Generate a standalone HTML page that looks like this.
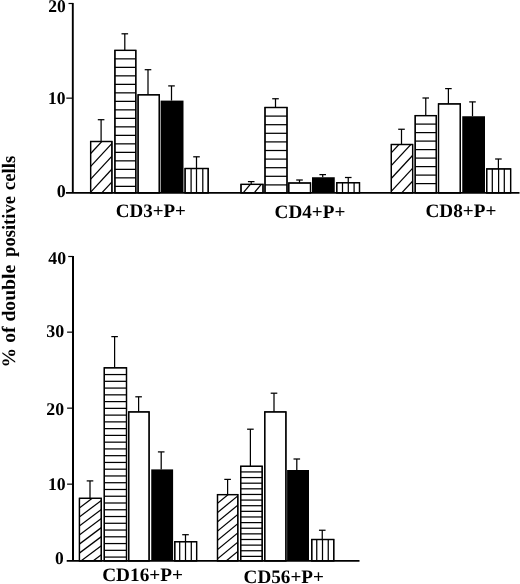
<!DOCTYPE html>
<html lang="en">
<head>
<meta charset="utf-8">
<title>% of double positive cells</title>
<style>
html,body{margin:0;padding:0;background:#fff;}
body{width:520px;height:584px;overflow:hidden;}
svg{display:block;will-change:transform;}
svg text{font-family:"Liberation Serif","DejaVu Serif",serif;font-weight:bold;font-size:17.9px;fill:#000;text-rendering:geometricPrecision;}
svg text.lab{font-size:19px;stroke:none;}
svg text.yl{font-size:19px;stroke:none;}
.bars line,.bars rect{stroke:#000;stroke-width:1.25;}
.axes line{stroke:#000;}
</style>
</head>
<body>
<svg width="520" height="584" viewBox="0 0 520 584">
<rect x="0" y="0" width="520" height="584" fill="#fff"/>
<g class="bars" stroke-linecap="butt">
<rect x="90.60" y="141.50" width="21.30" height="51.30" fill="#fff"/>
<clipPath id="c1"><rect x="90.60" y="141.50" width="21.30" height="51.30"/></clipPath>
<g clip-path="url(#c1)">
<line x1="88.60" y1="142.91" x2="113.90" y2="115.59"/>
<line x1="88.60" y1="155.76" x2="113.90" y2="128.44"/>
<line x1="88.60" y1="168.61" x2="113.90" y2="141.29"/>
<line x1="88.60" y1="181.46" x2="113.90" y2="154.14"/>
<line x1="88.60" y1="194.31" x2="113.90" y2="166.99"/>
<line x1="88.60" y1="207.16" x2="113.90" y2="179.84"/>
<line x1="88.60" y1="220.01" x2="113.90" y2="192.69"/>
</g>
<rect x="90.60" y="141.50" width="21.30" height="51.30" fill="none"/>
<line x1="101.10" y1="141.50" x2="101.10" y2="119.70"/>
<line x1="97.80" y1="119.70" x2="104.40" y2="119.70"/>
<rect x="114.90" y="50.40" width="20.90" height="142.40" fill="#fff"/>
<line x1="114.90" y1="58.85" x2="135.80" y2="58.85"/>
<line x1="114.90" y1="67.35" x2="135.80" y2="67.35"/>
<line x1="114.90" y1="75.85" x2="135.80" y2="75.85"/>
<line x1="114.90" y1="84.35" x2="135.80" y2="84.35"/>
<line x1="114.90" y1="92.85" x2="135.80" y2="92.85"/>
<line x1="114.90" y1="101.35" x2="135.80" y2="101.35"/>
<line x1="114.90" y1="109.85" x2="135.80" y2="109.85"/>
<line x1="114.90" y1="118.35" x2="135.80" y2="118.35"/>
<line x1="114.90" y1="126.85" x2="135.80" y2="126.85"/>
<line x1="114.90" y1="135.35" x2="135.80" y2="135.35"/>
<line x1="114.90" y1="143.85" x2="135.80" y2="143.85"/>
<line x1="114.90" y1="152.35" x2="135.80" y2="152.35"/>
<line x1="114.90" y1="160.85" x2="135.80" y2="160.85"/>
<line x1="114.90" y1="169.35" x2="135.80" y2="169.35"/>
<line x1="114.90" y1="177.85" x2="135.80" y2="177.85"/>
<line x1="114.90" y1="186.35" x2="135.80" y2="186.35"/>
<rect x="114.90" y="50.40" width="20.90" height="142.40" fill="none"/>
<line x1="124.80" y1="50.40" x2="124.80" y2="33.80"/>
<line x1="121.50" y1="33.80" x2="128.10" y2="33.80"/>
<rect x="138.10" y="94.80" width="21.20" height="98.00" fill="#fff"/>
<rect x="138.10" y="94.80" width="21.20" height="98.00" fill="none"/>
<line x1="148.00" y1="94.80" x2="148.00" y2="69.70"/>
<line x1="144.70" y1="69.70" x2="151.30" y2="69.70"/>
<rect x="160.60" y="100.60" width="22.90" height="92.20" fill="#000" stroke="none" style="stroke:none"/>
<line x1="171.50" y1="100.60" x2="171.50" y2="85.90"/>
<line x1="168.20" y1="85.90" x2="174.80" y2="85.90"/>
<rect x="185.10" y="168.50" width="23.10" height="24.30" fill="#fff"/>
<line x1="191.10" y1="168.50" x2="191.10" y2="192.80"/>
<line x1="196.50" y1="168.50" x2="196.50" y2="192.80"/>
<line x1="202.80" y1="168.50" x2="202.80" y2="192.80"/>
<rect x="185.10" y="168.50" width="23.10" height="24.30" fill="none"/>
<line x1="196.50" y1="168.50" x2="196.50" y2="156.80"/>
<line x1="193.20" y1="156.80" x2="199.80" y2="156.80"/>
<rect x="241.00" y="184.40" width="22.00" height="8.40" fill="#fff"/>
<clipPath id="c2"><rect x="241.00" y="184.40" width="22.00" height="8.40"/></clipPath>
<g clip-path="url(#c2)">
<line x1="239.00" y1="184.70" x2="265.00" y2="153.50"/>
<line x1="239.00" y1="197.90" x2="265.00" y2="166.70"/>
<line x1="239.00" y1="211.10" x2="265.00" y2="179.90"/>
<line x1="239.00" y1="224.30" x2="265.00" y2="193.10"/>
</g>
<rect x="241.00" y="184.40" width="22.00" height="8.40" fill="none"/>
<line x1="251.20" y1="184.40" x2="251.20" y2="181.60"/>
<line x1="247.90" y1="181.60" x2="254.50" y2="181.60"/>
<rect x="265.00" y="107.50" width="22.00" height="85.30" fill="#fff"/>
<line x1="265.00" y1="116.10" x2="287.00" y2="116.10"/>
<line x1="265.00" y1="124.70" x2="287.00" y2="124.70"/>
<line x1="265.00" y1="133.30" x2="287.00" y2="133.30"/>
<line x1="265.00" y1="141.90" x2="287.00" y2="141.90"/>
<line x1="265.00" y1="150.50" x2="287.00" y2="150.50"/>
<line x1="265.00" y1="159.10" x2="287.00" y2="159.10"/>
<line x1="265.00" y1="167.70" x2="287.00" y2="167.70"/>
<line x1="265.00" y1="176.30" x2="287.00" y2="176.30"/>
<line x1="265.00" y1="184.90" x2="287.00" y2="184.90"/>
<rect x="265.00" y="107.50" width="22.00" height="85.30" fill="none"/>
<line x1="275.50" y1="107.50" x2="275.50" y2="98.75"/>
<line x1="272.20" y1="98.75" x2="278.80" y2="98.75"/>
<rect x="288.75" y="183.00" width="21.75" height="9.80" fill="#fff"/>
<rect x="288.75" y="183.00" width="21.75" height="9.80" fill="none"/>
<line x1="299.50" y1="183.00" x2="299.50" y2="180.00"/>
<line x1="296.20" y1="180.00" x2="302.80" y2="180.00"/>
<rect x="312.00" y="177.25" width="22.75" height="15.55" fill="#000" stroke="none" style="stroke:none"/>
<line x1="322.70" y1="177.25" x2="322.70" y2="174.60"/>
<line x1="319.40" y1="174.60" x2="326.00" y2="174.60"/>
<rect x="336.75" y="182.70" width="22.75" height="10.10" fill="#fff"/>
<line x1="342.50" y1="182.70" x2="342.50" y2="192.80"/>
<line x1="348.30" y1="182.70" x2="348.30" y2="192.80"/>
<line x1="354.10" y1="182.70" x2="354.10" y2="192.80"/>
<rect x="336.75" y="182.70" width="22.75" height="10.10" fill="none"/>
<line x1="348.25" y1="182.70" x2="348.25" y2="177.50"/>
<line x1="344.95" y1="177.50" x2="351.55" y2="177.50"/>
<rect x="391.35" y="144.50" width="21.25" height="48.30" fill="#fff"/>
<clipPath id="c3"><rect x="391.35" y="144.50" width="21.25" height="48.30"/></clipPath>
<g clip-path="url(#c3)">
<line x1="389.35" y1="142.01" x2="414.60" y2="114.74"/>
<line x1="389.35" y1="154.86" x2="414.60" y2="127.59"/>
<line x1="389.35" y1="167.71" x2="414.60" y2="140.44"/>
<line x1="389.35" y1="180.56" x2="414.60" y2="153.29"/>
<line x1="389.35" y1="193.41" x2="414.60" y2="166.14"/>
<line x1="389.35" y1="206.26" x2="414.60" y2="178.99"/>
<line x1="389.35" y1="219.11" x2="414.60" y2="191.84"/>
</g>
<rect x="391.35" y="144.50" width="21.25" height="48.30" fill="none"/>
<line x1="401.50" y1="144.50" x2="401.50" y2="129.25"/>
<line x1="398.20" y1="129.25" x2="404.80" y2="129.25"/>
<rect x="415.20" y="115.60" width="21.10" height="77.20" fill="#fff"/>
<line x1="415.20" y1="124.10" x2="436.30" y2="124.10"/>
<line x1="415.20" y1="132.60" x2="436.30" y2="132.60"/>
<line x1="415.20" y1="141.10" x2="436.30" y2="141.10"/>
<line x1="415.20" y1="149.60" x2="436.30" y2="149.60"/>
<line x1="415.20" y1="158.10" x2="436.30" y2="158.10"/>
<line x1="415.20" y1="166.60" x2="436.30" y2="166.60"/>
<line x1="415.20" y1="175.10" x2="436.30" y2="175.10"/>
<line x1="415.20" y1="183.60" x2="436.30" y2="183.60"/>
<rect x="415.20" y="115.60" width="21.10" height="77.20" fill="none"/>
<line x1="425.75" y1="115.60" x2="425.75" y2="98.00"/>
<line x1="422.45" y1="98.00" x2="429.05" y2="98.00"/>
<rect x="438.50" y="103.90" width="21.80" height="88.90" fill="#fff"/>
<rect x="438.50" y="103.90" width="21.80" height="88.90" fill="none"/>
<line x1="448.40" y1="103.90" x2="448.40" y2="88.60"/>
<line x1="445.10" y1="88.60" x2="451.70" y2="88.60"/>
<rect x="462.25" y="116.25" width="22.75" height="76.55" fill="#000" stroke="none" style="stroke:none"/>
<line x1="472.50" y1="116.25" x2="472.50" y2="101.90"/>
<line x1="469.20" y1="101.90" x2="475.80" y2="101.90"/>
<rect x="486.70" y="168.90" width="23.90" height="23.90" fill="#fff"/>
<line x1="492.30" y1="168.90" x2="492.30" y2="192.80"/>
<line x1="498.60" y1="168.90" x2="498.60" y2="192.80"/>
<line x1="504.30" y1="168.90" x2="504.30" y2="192.80"/>
<rect x="486.70" y="168.90" width="23.90" height="23.90" fill="none"/>
<line x1="498.40" y1="168.90" x2="498.40" y2="159.00"/>
<line x1="495.10" y1="159.00" x2="501.70" y2="159.00"/>
<rect x="79.45" y="498.35" width="21.85" height="62.45" fill="#fff"/>
<clipPath id="c4"><rect x="79.45" y="498.35" width="21.85" height="62.45"/></clipPath>
<g clip-path="url(#c4)">
<line x1="77.45" y1="491.27" x2="103.30" y2="471.88"/>
<line x1="77.45" y1="500.31" x2="103.30" y2="480.92"/>
<line x1="77.45" y1="509.35" x2="103.30" y2="489.96"/>
<line x1="77.45" y1="518.39" x2="103.30" y2="499.00"/>
<line x1="77.45" y1="527.43" x2="103.30" y2="508.04"/>
<line x1="77.45" y1="536.47" x2="103.30" y2="517.08"/>
<line x1="77.45" y1="545.51" x2="103.30" y2="526.12"/>
<line x1="77.45" y1="554.55" x2="103.30" y2="535.16"/>
<line x1="77.45" y1="563.59" x2="103.30" y2="544.20"/>
<line x1="77.45" y1="572.63" x2="103.30" y2="553.24"/>
<line x1="77.45" y1="581.67" x2="103.30" y2="562.28"/>
</g>
<rect x="79.45" y="498.35" width="21.85" height="62.45" fill="none"/>
<line x1="90.00" y1="498.35" x2="90.00" y2="480.90"/>
<line x1="86.70" y1="480.90" x2="93.30" y2="480.90"/>
<rect x="104.30" y="367.80" width="22.20" height="193.00" fill="#fff"/>
<line x1="104.30" y1="374.56" x2="126.50" y2="374.56"/>
<line x1="104.30" y1="381.32" x2="126.50" y2="381.32"/>
<line x1="104.30" y1="388.08" x2="126.50" y2="388.08"/>
<line x1="104.30" y1="394.84" x2="126.50" y2="394.84"/>
<line x1="104.30" y1="401.60" x2="126.50" y2="401.60"/>
<line x1="104.30" y1="408.36" x2="126.50" y2="408.36"/>
<line x1="104.30" y1="415.12" x2="126.50" y2="415.12"/>
<line x1="104.30" y1="421.88" x2="126.50" y2="421.88"/>
<line x1="104.30" y1="428.64" x2="126.50" y2="428.64"/>
<line x1="104.30" y1="435.40" x2="126.50" y2="435.40"/>
<line x1="104.30" y1="442.16" x2="126.50" y2="442.16"/>
<line x1="104.30" y1="448.92" x2="126.50" y2="448.92"/>
<line x1="104.30" y1="455.68" x2="126.50" y2="455.68"/>
<line x1="104.30" y1="462.44" x2="126.50" y2="462.44"/>
<line x1="104.30" y1="469.20" x2="126.50" y2="469.20"/>
<line x1="104.30" y1="475.96" x2="126.50" y2="475.96"/>
<line x1="104.30" y1="482.72" x2="126.50" y2="482.72"/>
<line x1="104.30" y1="489.48" x2="126.50" y2="489.48"/>
<line x1="104.30" y1="496.24" x2="126.50" y2="496.24"/>
<line x1="104.30" y1="503.00" x2="126.50" y2="503.00"/>
<line x1="104.30" y1="509.76" x2="126.50" y2="509.76"/>
<line x1="104.30" y1="516.52" x2="126.50" y2="516.52"/>
<line x1="104.30" y1="523.28" x2="126.50" y2="523.28"/>
<line x1="104.30" y1="530.04" x2="126.50" y2="530.04"/>
<line x1="104.30" y1="536.80" x2="126.50" y2="536.80"/>
<line x1="104.30" y1="543.56" x2="126.50" y2="543.56"/>
<line x1="104.30" y1="550.32" x2="126.50" y2="550.32"/>
<line x1="104.30" y1="557.08" x2="126.50" y2="557.08"/>
<rect x="104.30" y="367.80" width="22.20" height="193.00" fill="none"/>
<line x1="114.60" y1="367.80" x2="114.60" y2="336.60"/>
<line x1="111.30" y1="336.60" x2="117.90" y2="336.60"/>
<rect x="128.70" y="411.90" width="20.40" height="148.90" fill="#fff"/>
<rect x="128.70" y="411.90" width="20.40" height="148.90" fill="none"/>
<line x1="138.60" y1="411.90" x2="138.60" y2="396.80"/>
<line x1="135.30" y1="396.80" x2="141.90" y2="396.80"/>
<rect x="151.25" y="469.40" width="21.85" height="91.40" fill="#000" stroke="none" style="stroke:none"/>
<line x1="161.20" y1="469.40" x2="161.20" y2="451.90"/>
<line x1="157.90" y1="451.90" x2="164.50" y2="451.90"/>
<rect x="174.75" y="541.70" width="21.85" height="19.10" fill="#fff"/>
<line x1="179.70" y1="541.70" x2="179.70" y2="560.80"/>
<line x1="185.50" y1="541.70" x2="185.50" y2="560.80"/>
<line x1="191.30" y1="541.70" x2="191.30" y2="560.80"/>
<rect x="174.75" y="541.70" width="21.85" height="19.10" fill="none"/>
<line x1="185.50" y1="541.70" x2="185.50" y2="534.70"/>
<line x1="182.20" y1="534.70" x2="188.80" y2="534.70"/>
<rect x="217.50" y="494.60" width="20.30" height="66.20" fill="#fff"/>
<clipPath id="c5"><rect x="217.50" y="494.60" width="20.30" height="66.20"/></clipPath>
<g clip-path="url(#c5)">
<line x1="215.50" y1="495.69" x2="239.80" y2="475.76"/>
<line x1="215.50" y1="504.94" x2="239.80" y2="485.01"/>
<line x1="215.50" y1="514.19" x2="239.80" y2="494.26"/>
<line x1="215.50" y1="523.44" x2="239.80" y2="503.51"/>
<line x1="215.50" y1="532.69" x2="239.80" y2="512.76"/>
<line x1="215.50" y1="541.94" x2="239.80" y2="522.01"/>
<line x1="215.50" y1="551.19" x2="239.80" y2="531.26"/>
<line x1="215.50" y1="560.44" x2="239.80" y2="540.51"/>
<line x1="215.50" y1="569.69" x2="239.80" y2="549.76"/>
<line x1="215.50" y1="578.94" x2="239.80" y2="559.01"/>
<line x1="215.50" y1="588.19" x2="239.80" y2="568.26"/>
</g>
<rect x="217.50" y="494.60" width="20.30" height="66.20" fill="none"/>
<line x1="227.60" y1="494.60" x2="227.60" y2="479.40"/>
<line x1="224.30" y1="479.40" x2="230.90" y2="479.40"/>
<rect x="240.70" y="466.30" width="21.50" height="94.50" fill="#fff"/>
<line x1="240.70" y1="471.93" x2="262.20" y2="471.93"/>
<line x1="240.70" y1="477.56" x2="262.20" y2="477.56"/>
<line x1="240.70" y1="483.19" x2="262.20" y2="483.19"/>
<line x1="240.70" y1="488.82" x2="262.20" y2="488.82"/>
<line x1="240.70" y1="494.45" x2="262.20" y2="494.45"/>
<line x1="240.70" y1="500.08" x2="262.20" y2="500.08"/>
<line x1="240.70" y1="505.71" x2="262.20" y2="505.71"/>
<line x1="240.70" y1="511.34" x2="262.20" y2="511.34"/>
<line x1="240.70" y1="516.97" x2="262.20" y2="516.97"/>
<line x1="240.70" y1="522.60" x2="262.20" y2="522.60"/>
<line x1="240.70" y1="528.23" x2="262.20" y2="528.23"/>
<line x1="240.70" y1="533.86" x2="262.20" y2="533.86"/>
<line x1="240.70" y1="539.49" x2="262.20" y2="539.49"/>
<line x1="240.70" y1="545.12" x2="262.20" y2="545.12"/>
<line x1="240.70" y1="550.75" x2="262.20" y2="550.75"/>
<line x1="240.70" y1="556.38" x2="262.20" y2="556.38"/>
<rect x="240.70" y="466.30" width="21.50" height="94.50" fill="none"/>
<line x1="250.40" y1="466.30" x2="250.40" y2="429.20"/>
<line x1="247.10" y1="429.20" x2="253.70" y2="429.20"/>
<rect x="264.75" y="411.90" width="21.15" height="148.90" fill="#fff"/>
<rect x="264.75" y="411.90" width="21.15" height="148.90" fill="none"/>
<line x1="274.00" y1="411.90" x2="274.00" y2="393.20"/>
<line x1="270.70" y1="393.20" x2="277.30" y2="393.20"/>
<rect x="287.10" y="470.00" width="21.90" height="90.80" fill="#000" stroke="none" style="stroke:none"/>
<line x1="296.80" y1="470.00" x2="296.80" y2="459.00"/>
<line x1="293.50" y1="459.00" x2="300.10" y2="459.00"/>
<rect x="311.75" y="539.50" width="22.00" height="21.30" fill="#fff"/>
<line x1="316.75" y1="539.50" x2="316.75" y2="560.80"/>
<line x1="322.50" y1="539.50" x2="322.50" y2="560.80"/>
<line x1="328.25" y1="539.50" x2="328.25" y2="560.80"/>
<rect x="311.75" y="539.50" width="22.00" height="21.30" fill="none"/>
<line x1="322.25" y1="539.50" x2="322.25" y2="530.25"/>
<line x1="318.95" y1="530.25" x2="325.55" y2="530.25"/>
</g>
<g class="axes">
<line x1="72.8" y1="2.95" x2="72.8" y2="192.8" stroke-width="1.9"/>
<line x1="65.9" y1="192.8" x2="519.5" y2="192.8" stroke-width="1.85"/>
<line x1="68.5" y1="3.5" x2="72.8" y2="3.5" stroke-width="1.2"/>
<line x1="66.3" y1="98.15" x2="72.8" y2="98.15" stroke-width="1.2"/>
<line x1="73.0" y1="255.9" x2="73.0" y2="560.8" stroke-width="2"/>
<line x1="66.7" y1="560.8" x2="359.5" y2="560.8" stroke-width="1.85"/>
<line x1="68.2" y1="256.5" x2="73.0" y2="256.5" stroke-width="1.2"/>
<line x1="67.1" y1="332.15" x2="73.0" y2="332.15" stroke-width="1.2"/>
<line x1="67.1" y1="408.15" x2="73.0" y2="408.15" stroke-width="1.2"/>
<line x1="67.1" y1="484.15" x2="73.0" y2="484.15" stroke-width="1.2"/>
</g>
<g class="txt">
<text x="48.35" y="12.25" textLength="17.50" lengthAdjust="spacingAndGlyphs">20</text>
<text x="48.10" y="104.35" textLength="17.55" lengthAdjust="spacingAndGlyphs">10</text>
<text x="56.65" y="196.55" textLength="9.00" lengthAdjust="spacingAndGlyphs">0</text>
<text x="48.35" y="263.75" textLength="17.80" lengthAdjust="spacingAndGlyphs">40</text>
<text x="46.25" y="336.95" textLength="18.00" lengthAdjust="spacingAndGlyphs">30</text>
<text x="46.25" y="414.65" textLength="17.80" lengthAdjust="spacingAndGlyphs">20</text>
<text x="47.90" y="490.05" textLength="17.75" lengthAdjust="spacingAndGlyphs">10</text>
<text x="54.95" y="564.05" textLength="8.70" lengthAdjust="spacingAndGlyphs">0</text>
<text class="lab" x="115.7" y="216.8" textLength="70.2" lengthAdjust="spacingAndGlyphs">CD3+P+</text>
<text class="lab" x="274.6" y="218.0" textLength="70.8" lengthAdjust="spacingAndGlyphs">CD4+P+</text>
<text class="lab" x="425.5" y="217.3" textLength="70.9" lengthAdjust="spacingAndGlyphs">CD8+P+</text>
<text class="lab" x="102.2" y="581.4" textLength="80.8" lengthAdjust="spacingAndGlyphs">CD16+P+</text>
<text class="lab" x="243.6" y="582.7" textLength="80.3" lengthAdjust="spacingAndGlyphs">CD56+P+</text>
<text class="yl" transform="translate(15.4 367.4) rotate(-90)" textLength="102.6" lengthAdjust="spacingAndGlyphs">% of double</text>
<text class="yl" transform="translate(15.4 256.9) rotate(-90)" textLength="60.8" lengthAdjust="spacingAndGlyphs">positive</text>
<text class="yl" transform="translate(15.4 190.2) rotate(-90)" textLength="34.5" lengthAdjust="spacingAndGlyphs">cells</text>
</g>
</svg>
</body>
</html>
